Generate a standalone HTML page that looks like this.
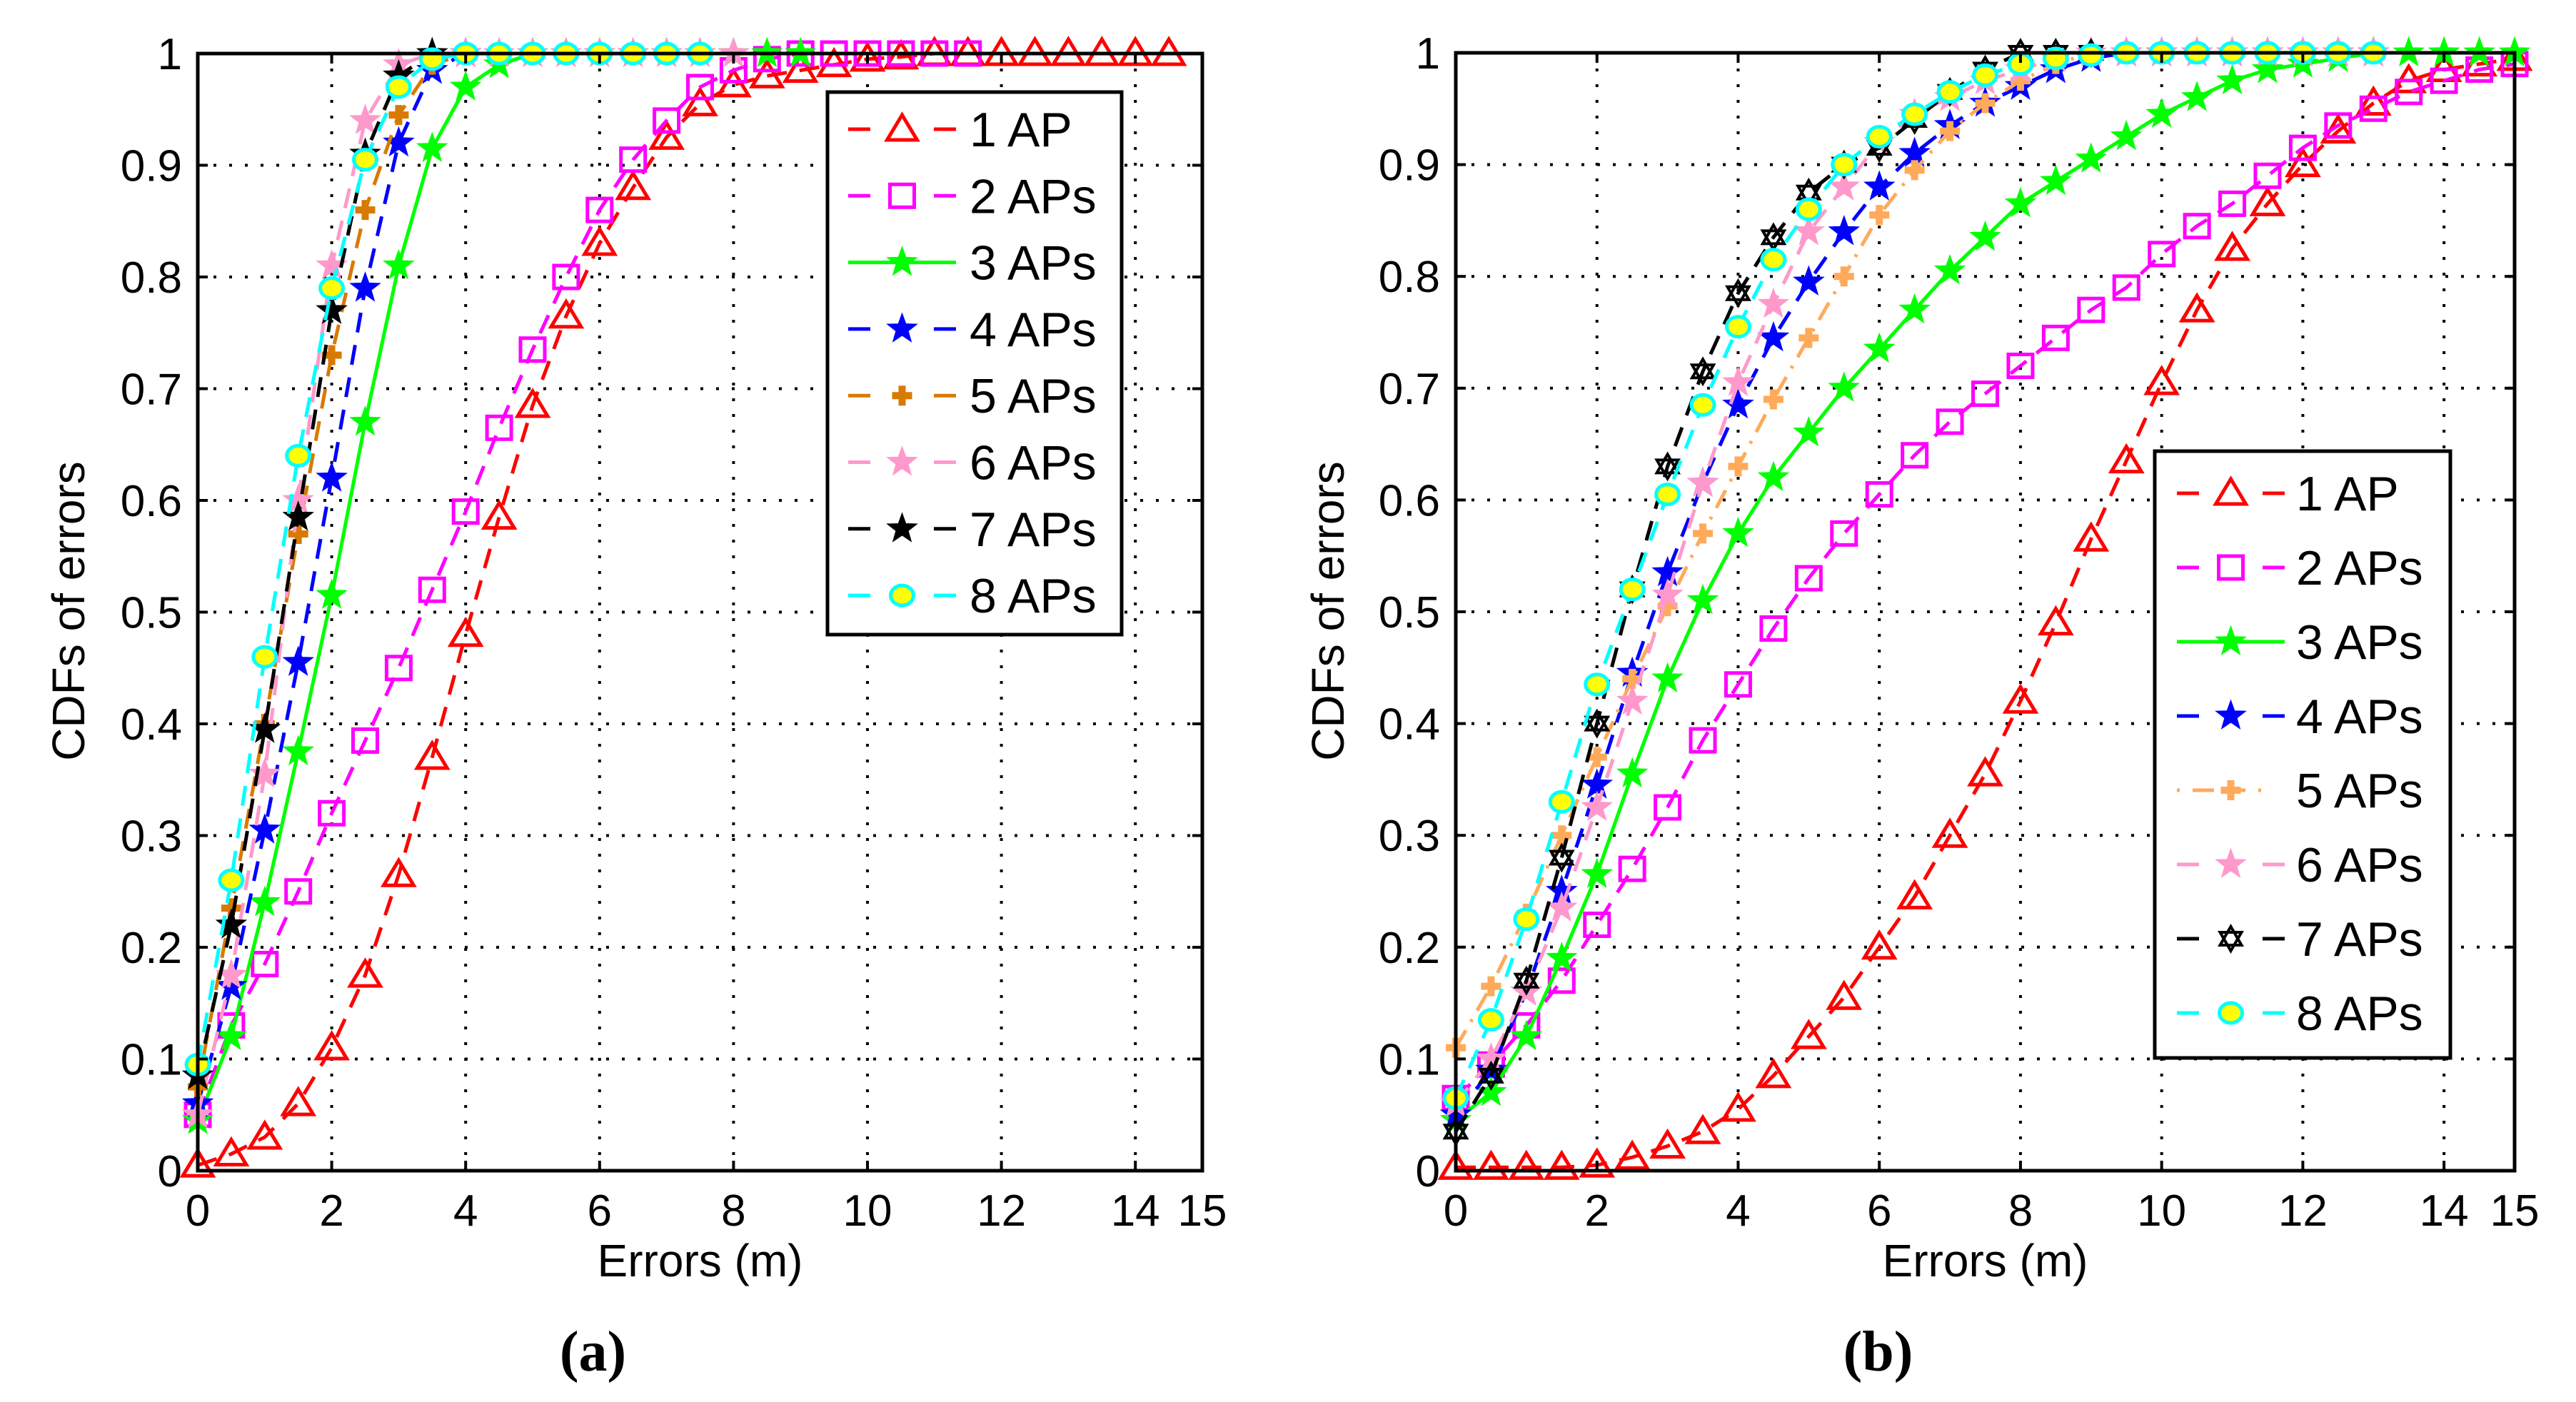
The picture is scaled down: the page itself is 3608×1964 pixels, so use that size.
<!DOCTYPE html>
<html><head><meta charset="utf-8"><style>
html,body{margin:0;padding:0;background:#fff;}
svg{display:block;font-family:"Liberation Sans",sans-serif;}
</style></head><body>
<svg id="fig" width="3608" height="1964" viewBox="0 0 3608 1964" xmlns="http://www.w3.org/2000/svg"></svg>
<script>
const xTicks=[0,2,4,6,8,10,12,14,15];
const yTicks=[0,0.1,0.2,0.3,0.4,0.5,0.6,0.7,0.8,0.9,1];
const yTickLabels=["0","0.1","0.2","0.3","0.4","0.5","0.6","0.7","0.8","0.9","1"];
const seriesNames=["1 AP","2 APs","3 APs","4 APs","5 APs","6 APs","7 APs","8 APs"];
// Panel (a)
const a1=[0.005,0.015,0.03,0.06,0.11,0.175,0.265,0.37,0.48,0.585,0.685,0.765,0.83,0.88,0.925,0.955,0.972,0.98,0.985,0.99,0.995,0.997,1,1,1,1,1,1,1,1];
const a2=[0.05,0.13,0.185,0.25,0.32,0.385,0.45,0.52,0.59,0.665,0.735,0.8,0.86,0.905,0.94,0.97,0.985,0.995,1,1,1,1,1,1];
const a3=[0.045,0.12,0.24,0.375,0.515,0.67,0.81,0.915,0.97,0.99,1,1,1,1,1,1,1,1,1];
const a4=[0.06,0.165,0.305,0.455,0.62,0.79,0.92,0.985,1];
const a5=[0.075,0.235,0.4,0.57,0.73,0.86,0.945,0.99,1];
const a6=[0.05,0.175,0.355,0.6,0.81,0.94,0.99,1,1,1,1,1,1,1,1,1,1];
const a7=[0.085,0.22,0.395,0.585,0.77,0.91,0.98,1];
const a8=[0.095,0.26,0.46,0.64,0.79,0.905,0.97,0.995,1,1,1,1,1,1,1,1];
// Panel (b)
const b1=[0.003,0.003,0.003,0.003,0.005,0.012,0.022,0.035,0.055,0.085,0.12,0.155,0.2,0.245,0.3,0.355,0.42,0.49,0.565,0.635,0.705,0.77,0.825,0.865,0.9,0.93,0.955,0.975,0.985,0.99,0.995];
const b2=[0.065,0.095,0.13,0.17,0.22,0.27,0.325,0.385,0.435,0.485,0.53,0.57,0.605,0.64,0.67,0.695,0.72,0.745,0.77,0.79,0.82,0.845,0.865,0.89,0.915,0.935,0.95,0.965,0.975,0.985,0.99];
const b3=[0.045,0.07,0.12,0.19,0.265,0.355,0.44,0.51,0.57,0.62,0.66,0.7,0.735,0.77,0.805,0.835,0.865,0.885,0.905,0.925,0.945,0.96,0.975,0.985,0.99,0.995,1,1,1,1,1];
const b4=[0.05,0.09,0.16,0.25,0.345,0.445,0.535,0.615,0.685,0.745,0.795,0.84,0.88,0.91,0.935,0.955,0.97,0.985,0.995,1,1,1,1,1,1,1,1];
const b5=[0.11,0.165,0.23,0.3,0.37,0.44,0.505,0.57,0.63,0.69,0.745,0.8,0.855,0.895,0.93,0.955,0.975,0.99,1,1,1,1,1,1,1,1,1];
const b6=[0.06,0.1,0.16,0.235,0.325,0.42,0.515,0.615,0.705,0.775,0.84,0.88,0.92,0.945,0.96,0.975,0.985,0.995,1,1,1,1,1,1,1,1,1];
const b7=[0.035,0.085,0.17,0.28,0.4,0.52,0.63,0.715,0.785,0.835,0.875,0.9,0.915,0.94,0.965,0.985,1,1,1];
const b8=[0.065,0.135,0.225,0.33,0.435,0.52,0.605,0.685,0.755,0.815,0.86,0.9,0.925,0.945,0.965,0.98,0.99,0.995,0.998,1,1,1,1,1,1,1,1];

const NS="http://www.w3.org/2000/svg";
const svg=document.getElementById('fig');
function mk(tag,attrs,parent){const e=document.createElementNS(NS,tag);for(const k in attrs)e.setAttribute(k,attrs[k]);(parent||svg).appendChild(e);return e;}

function styles(panel){
  return [
    {c:"#ff0000",dash:"28 18",m:"tri"},
    {c:"#ff00ff",dash:"28 18",m:"sq"},
    {c:"#00ff00",dash:"",m:"star"},
    {c:"#0000ff",dash:"28 18",m:"star"},
    panel==="a"?{c:"#d97a00",dash:"28 18",m:"plus"}:{c:"#ffaa5a",dash:"28 14 4 14",m:"plus"},
    {c:"#ff99cc",dash:"28 18",m:"star"},
    panel==="a"?{c:"#000000",dash:"28 18",m:"star"}:{c:"#000000",dash:"28 18",m:"hex"},
    {c:"#00ffff",dash:"28 18",m:"circ"}
  ];
}
function marker(g,type,c,x,y){
  let e;
  if(type==="tri"){
    e=mk('polygon',{points:`${x},${y-20} ${x-21},${y+15} ${x+21},${y+15}`,fill:"none",stroke:c,"stroke-width":5},g);
  }else if(type==="sq"){
    e=mk('rect',{x:x-17,y:y-16,width:34,height:32,fill:"none",stroke:c,"stroke-width":5},g);
  }else if(type==="star"){
    let p=[];for(let i=0;i<10;i++){const r=i%2?9:22;const a=-Math.PI/2+i*Math.PI/5;p.push((x+r*Math.cos(a)).toFixed(1)+","+(y+r*Math.sin(a)).toFixed(1));}
    e=mk('polygon',{points:p.join(" "),fill:c,stroke:c,"stroke-width":1},g);
  }else if(type==="plus"){
    e=mk('path',{d:`M${x-5},${y-14}h10v9h9v10h-9v9h-10v-9h-9v-10h9z`,fill:c},g);
  }else if(type==="hex"){
    e=mk('path',{d:`M${x},${y-17}L${x+15},${y+9}L${x-15},${y+9}Z M${x},${y+17}L${x+15},${y-9}L${x-15},${y-9}Z`,fill:"none",stroke:c,"stroke-width":4},g);
  }else{
    e=mk('ellipse',{cx:x,cy:y,rx:16,ry:14,fill:"#ffff00",stroke:c,"stroke-width":5},g);
  }
  
  
}

function panel(id,L,R,T,B,data,leg,caption,ylabX){
  const sx=v=>L+(R-L)*v/15, sy=v=>B-(B-T)*v;
  const g=mk('g',{});
  
  
  mk('rect',{x:L,y:T,width:R-L,height:B-T,fill:"#fff"},g);
  const grid=mk('g',{stroke:"#000","stroke-width":4,"stroke-dasharray":"4 18"},g);
  
  
  xTicks.forEach(v=>{if(v>0&&v<15)mk('line',{x1:sx(v),y1:B,x2:sx(v),y2:T},grid);});
  yTicks.forEach(v=>{if(v>0&&v<1)mk('line',{x1:L,y1:sy(v),x2:R,y2:sy(v)},grid);});
  const st=styles(id);
  data.forEach((arr,i)=>{
    const s=st[i];
    const sg=mk('g',{},g);
    
    
    const pts=arr.map((v,k)=>sx(k*0.5).toFixed(1)+","+sy(v).toFixed(1)).join(" ");
    const pl=mk('polyline',{points:pts,fill:"none",stroke:s.c,"stroke-width":5,"stroke-dasharray":s.dash},sg);
    
    
    arr.forEach((v,k)=>marker(sg,s.m,s.c,sx(k*0.5),sy(v)));
  });
  const ax=mk('rect',{x:L,y:T,width:R-L,height:B-T,fill:"none",stroke:"#000","stroke-width":5},g);
  
  
  xTicks.forEach(v=>{
    mk('line',{x1:sx(v),y1:B,x2:sx(v),y2:B-14,stroke:"#000","stroke-width":4},g);
    mk('line',{x1:sx(v),y1:T,x2:sx(v),y2:T+14,stroke:"#000","stroke-width":4},g);
    const t=mk('text',{x:sx(v),y:B+77,"font-size":62,"text-anchor":"middle",fill:"#000"},g);
    t.textContent=String(v);
    
    
  });
  yTicks.forEach((v,k)=>{
    mk('line',{x1:L,y1:sy(v),x2:L+14,y2:sy(v),stroke:"#000","stroke-width":4},g);
    mk('line',{x1:R,y1:sy(v),x2:R-14,y2:sy(v),stroke:"#000","stroke-width":4},g);
    const t=mk('text',{x:L-22,y:sy(v)+22,"font-size":62,"text-anchor":"end",fill:"#000"},g);
    t.textContent=yTickLabels[k];
    
    
  });
  const xl=mk('text',{x:(L+R)/2,y:1788,"font-size":64,"text-anchor":"middle",fill:"#000"},g);
  xl.textContent="Errors (m)";
  
  
  const yl=mk('text',{x:ylabX,y:856,"font-size":64,"text-anchor":"middle",fill:"#000",transform:`rotate(-90 ${ylabX} 856)`,dy:22},g);
  yl.textContent="CDFs of errors";
  
  
  const cap=mk('text',{x:(L+R)/2-150,y:1920,"font-size":80,"font-weight":"bold","text-anchor":"middle",fill:"#000","font-family":"Liberation Serif, serif"},g);
  cap.textContent=caption;
  
  
  const lg=mk('g',{},g);
  
  
  mk('rect',{x:leg.x0,y:leg.y0,width:leg.x1-leg.x0,height:leg.y1-leg.y0,fill:"#fff",stroke:"#000","stroke-width":5},lg);
  seriesNames.forEach((n,i)=>{
    const s=st[i];const y=leg.r0+i*leg.dr;
    const e=mk('g',{},lg);
    
    
    mk('line',{x1:leg.lx0,y1:y,x2:leg.lx1,y2:y,stroke:s.c,"stroke-width":5,"stroke-dasharray":s.dash===""?"":(s.dash.split(" ").length>2?"0 0 4 18 30 14 30 18 4 100":"31 89 31 100")},e);
    marker(e,s.m,s.c,(leg.lx0+leg.lx1)/2,y);
    const t=mk('text',{x:leg.tx,y:y+24,"font-size":68,fill:"#000"},e);
    t.textContent=n;
    
    
  });
}
panel("a",277,1684,75,1640,[a1,a2,a3,a4,a5,a6,a7,a8],
  {x0:1159,x1:1571,y0:129,y1:889,r0:181,dr:93.3,lx0:1188,lx1:1339,tx:1358},"(a)",96);
panel("b",2039,3522,74,1640,[b1,b2,b3,b4,b5,b6,b7,b8],
  {x0:3018,x1:3432,y0:632,y1:1482,r0:691,dr:104,lx0:3049,lx1:3200,tx:3216},"(b)",1860);
</script>
</body></html>
